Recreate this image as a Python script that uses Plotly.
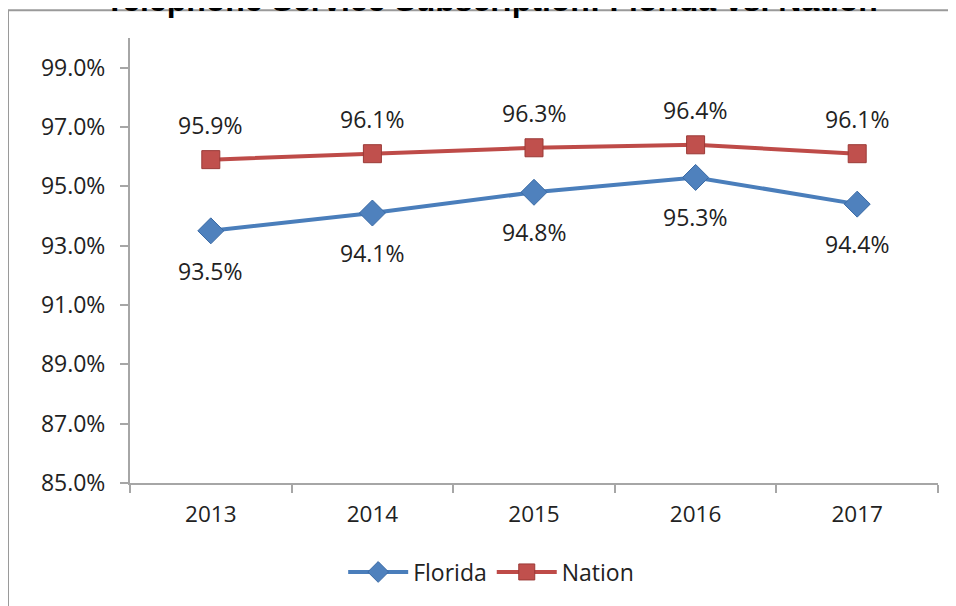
import plotly.graph_objects as go

years = ["2013", "2014", "2015", "2016", "2017"]
florida = [93.5, 94.1, 94.8, 95.3, 94.4]
nation = [95.9, 96.1, 96.3, 96.4, 96.1]
ytick_vals = [85, 87, 89, 91, 93, 95, 97, 99]
ytick_text = [f"{v:.1f}%" for v in ytick_vals]

FONT = "Open Sans"
fig = go.Figure()
fig.add_trace(go.Scatter(
    x=years, y=florida, name="Florida", mode="lines+markers",
    line=dict(color="#4A7EBB", width=4),
    marker=dict(symbol="diamond", size=20, color="#4F81BD",
                line=dict(color="#3A6AA5", width=1)),
))
fig.add_trace(go.Scatter(
    x=years, y=nation, name="Nation", mode="lines+markers",
    line=dict(color="#BE4B48", width=4),
    marker=dict(symbol="square", size=18, color="#C0504D",
                line=dict(color="#9B3A37", width=1)),
))

anns = []
for i, v in enumerate(nation):
    anns.append(dict(x=i, y=v, xref="x", yref="y", text=f"{v:.1f}%", showarrow=False,
                     yshift=35, font=dict(family=FONT, size=23, color="#222")))
for i, v in enumerate(florida):
    anns.append(dict(x=i, y=v, xref="x", yref="y", text=f"{v:.1f}%", showarrow=False,
                     yshift=-40, font=dict(family=FONT, size=23, color="#222")))
anns.append(dict(x=0.447, y=1.041, xref="paper", yref="paper", yanchor="bottom",
                 text="<b>Telephone Service Subscription: Florida vs. Nation</b>",
                 showarrow=False, font=dict(family="Liberation Sans", size=32, color="#000")))

fig.update_layout(
    width=948, height=598,
    margin=dict(l=122, r=18, t=30, b=121),
    paper_bgcolor="white", plot_bgcolor="white",
    annotations=anns,
    showlegend=True,
    legend=dict(orientation="h", x=0.447, xanchor="center", y=-0.2, yanchor="middle",
                font=dict(family=FONT, size=23, color="#222"), itemwidth=60),
    shapes=[dict(type="rect", xref="paper", yref="paper", x0=-0.151, x1=1.2,
                 y0=-0.6, y1=1.0626, line=dict(color="#9A9A9A", width=2), layer="below")],
)
fig.update_xaxes(
    type="category", range=[-0.5, 4.5], showgrid=False, showline=True,
    linecolor="#A6A6A6", linewidth=2, ticks="outside", tickson="boundaries",
    ticklen=8, tickcolor="#A6A6A6", tickwidth=2, ticklabelstandoff=10,
    tickfont=dict(family=FONT, size=22.5, color="#222"),
)
fig.update_yaxes(
    range=[85, 100], tickvals=ytick_vals, ticktext=ytick_text, showgrid=False,
    showline=True, linecolor="#A6A6A6", linewidth=2, ticks="outside", ticklen=8,
    tickcolor="#A6A6A6", tickwidth=2, zeroline=False, ticklabelstandoff=10,
    tickfont=dict(family=FONT, size=23, color="#222"),
)
fig.write_html("out.html")
